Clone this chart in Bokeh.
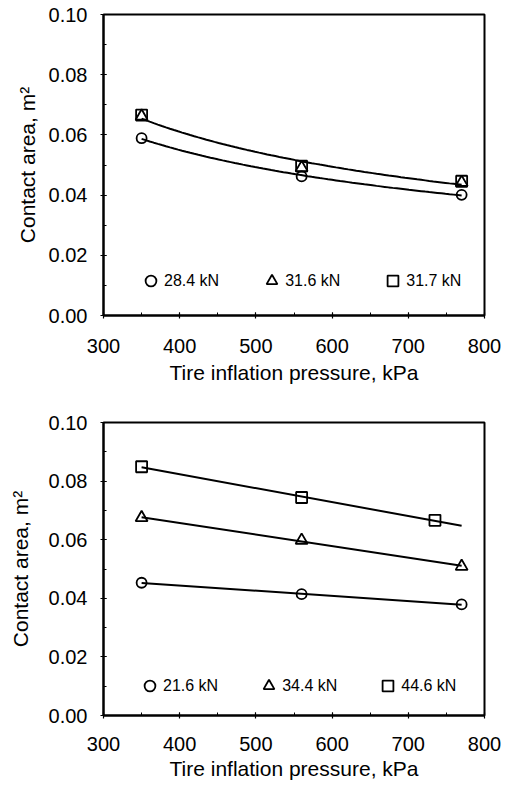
import numpy as np
from bokeh.plotting import figure
from bokeh.layouts import column
from bokeh.models import Legend, LegendItem, NumeralTickFormatter, SingleIntervalTicker, Range1d
from bokeh.embed import file_html
from bokeh.resources import INLINE

# ---------------- data ----------------
pressure = [350, 560, 770]

top_labels = ["28.4 kN", "31.6 kN", "31.7 kN"]
top_circle = [0.0589, 0.0462, 0.0401]
top_triangle = [0.0662, 0.0491, 0.0442]
top_square = [0.0666, 0.0496, 0.0446]

bot_labels = ["21.6 kN", "34.4 kN", "44.6 kN"]
bot_pressure_square = [350, 560, 735]
bot_circle = [0.0453, 0.0414, 0.0379]
bot_triangle = [0.0675, 0.0598, 0.0509]
bot_square = [0.0849, 0.0744, 0.0666]

x_title = "Tire inflation pressure, kPa"
y_title = "Contact area, m\u00b2"

FONT = "Liberation Sans"


def power_fit(xs, ys, xfit):
    b, a = np.polyfit(np.log(xs), np.log(ys), 1)
    return np.exp(a) * np.power(xfit, b)


def lin_fit(xs, ys, xfit):
    m, c = np.polyfit(xs, ys, 1)
    return m * xfit + c


def make_fig(height, b_top, b_bottom, b_left, b_right, tick_standoff, title_standoff, y_title_standoff):
    p = figure(width=503, height=height, x_range=Range1d(300, 800), y_range=Range1d(0, 0.10),
               output_backend="svg", toolbar_location=None,
               min_border_top=b_top, min_border_bottom=b_bottom,
               min_border_left=b_left, min_border_right=b_right)
    p.grid.visible = False
    p.outline_line_color = "black"
    p.outline_line_width = 2
    p.xaxis.ticker = SingleIntervalTicker(interval=100, num_minor_ticks=2)
    p.yaxis.ticker = SingleIntervalTicker(interval=0.02, num_minor_ticks=2)
    p.yaxis.formatter = NumeralTickFormatter(format="0.00")
    for ax in (p.xaxis, p.yaxis):
        ax.axis_line_width = 2
        ax.axis_line_color = "black"
        ax.major_tick_line_color = "black"
        ax.minor_tick_line_color = "black"
        ax.major_tick_line_width = 1.2
        ax.minor_tick_line_width = 1
        ax.major_tick_in = 3
        ax.major_tick_out = 3
        ax.minor_tick_in = 3
        ax.minor_tick_out = 0
        ax.major_label_text_font = FONT
        ax.major_label_text_font_size = "20px"
        ax.major_label_text_color = "black"
        ax.axis_label_text_font = FONT
        ax.axis_label_text_font_size = "21px"
        ax.axis_label_text_font_style = "normal"
        ax.axis_label_text_color = "black"
    p.xaxis.major_label_standoff = tick_standoff
    p.yaxis.major_label_standoff = 13
    p.xaxis.axis_label = x_title
    p.yaxis.axis_label = y_title
    p.xaxis.axis_label_standoff = title_standoff
    p.yaxis.axis_label_standoff = y_title_standoff
    return p


def add_legend(p, renderers, labels, loc, spacing):
    items = [LegendItem(label=lab, renderers=[r]) for lab, r in zip(labels, renderers)]
    lg = Legend(items=items, orientation="horizontal", location=loc,
                glyph_width=27, glyph_height=27, label_standoff=-8, spacing=spacing,
                padding=0, margin=0, border_line_color=None, background_fill_alpha=0,
                label_text_font=FONT, label_text_font_size="16px", label_text_color="black",
                label_height=20)
    p.add_layout(lg)


mk = dict(fill_color=None, line_color="black", line_width=1.8)

# ---------------- top chart ----------------
p1 = make_fig(390, 14, 75, 96, 19, 20, 5, 7)
xf = np.linspace(min(pressure), max(pressure), 80)
p1.line(xf, power_fit(pressure, top_circle, xf), line_color="black", line_width=2)
p1.line(xf, power_fit(pressure + pressure, top_triangle + top_square, xf), line_color="black", line_width=2)
r1 = p1.scatter(pressure, top_circle, marker="circle", size=10, **mk)
r2 = p1.scatter(pressure, top_triangle, marker="triangle", size=12, **mk)
r3 = p1.scatter(pressure, top_square, marker="square", size=11, **mk)
add_legend(p1, [r1, r2, r3], top_labels, (34, 21), 39)

# ---------------- bottom chart ----------------
p2 = make_fig(395, 32, 70, 103, 18, 18, 3, 14)
xl = np.array([min(pressure), max(pressure)], dtype=float)
p2.line(xl, lin_fit(pressure, bot_circle, xl), line_color="black", line_width=2)
p2.line(xl, lin_fit(pressure, bot_triangle, xl), line_color="black", line_width=2)
p2.line(xl, lin_fit(bot_pressure_square, bot_square, xl), line_color="black", line_width=2)
s1 = p2.scatter(pressure, bot_circle, marker="circle", size=10, **mk)
s2 = p2.scatter(pressure, bot_triangle, marker="triangle", size=12, **mk)
s3 = p2.scatter(bot_pressure_square, bot_square, marker="square", size=11, **mk)
add_legend(p2, [s1, s2, s3], bot_labels, (33, 16), 37)

layout = column(p1, p2, spacing=0)
open("out.html", "w").write(file_html(layout, INLINE))
